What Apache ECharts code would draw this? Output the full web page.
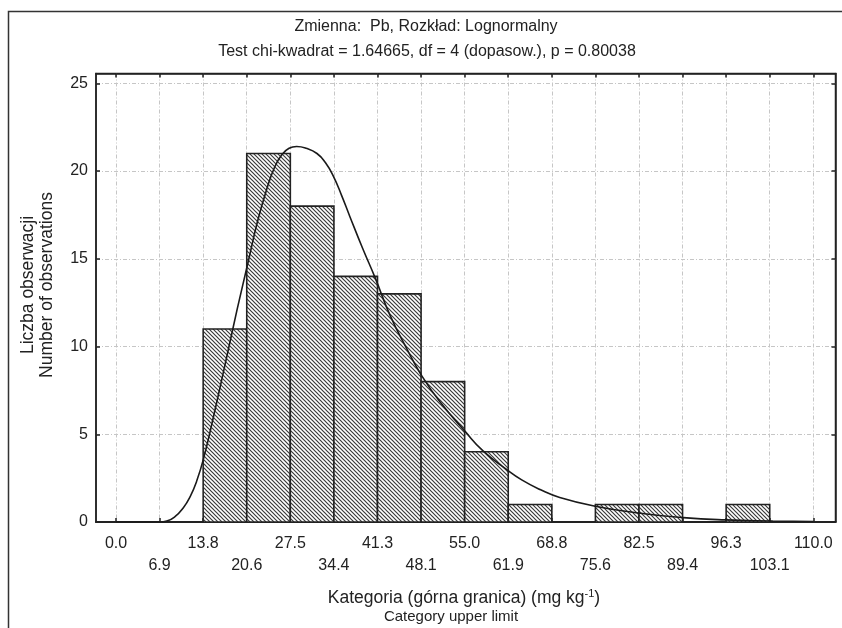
<!DOCTYPE html>
<html>
<head>
<meta charset="utf-8">
<script src="https://cdn.jsdelivr.net/npm/echarts@6/dist/echarts.min.js"></script>
<style>
  html, body { margin: 0; padding: 0; background: #fff; }
  #chart { width: 842px; height: 628px; }
</style>
</head>
<body>
<div id="chart"></div>
<script>
// Histogram class boundaries (category upper limits, mg/kg)
const binEdges = [0, 6.875, 13.75, 20.625, 27.5, 34.375, 41.25, 48.125, 55,
                  61.875, 68.75, 75.625, 82.5, 89.375, 96.25, 103.125, 110];
const tickLabels = ['0.0', '6.9', '13.8', '20.6', '27.5', '34.4', '41.3', '48.1', '55.0',
                    '61.9', '68.8', '75.6', '82.5', '89.4', '96.3', '103.1', '110.0'];
// Number of observations in each class
const counts = [0, 0, 11, 21, 18, 14, 13, 8, 4, 1, 0, 1, 1, 0, 1, 0];
// Fitted lognormal curve (expected count per class width)
const fitX = [0, 6.9, 8.0, 9.3, 10.6, 11.7, 12.7, 13.8, 15.5, 17.4, 19.1, 20.9, 22.3,
              23.8, 25.0, 26.1, 27.3, 28.5, 30.0, 31.7, 33.0, 34.3, 35.6, 36.9, 38.9,
              40.9, 43.2, 45.9, 48.2, 51.1, 55.1, 57.9, 61.6, 64.0, 66.9, 70.0, 75.6,
              82.7, 89.5, 96.1, 103.6, 110];
const fitY = [0, 0, 0.05, 0.3, 0.8, 1.45, 2.3, 3.6, 6.2, 9.3, 12.1, 14.9, 17.1,
              19.0, 20.2, 20.9, 21.3, 21.4, 21.3, 21.0, 20.5, 19.7, 18.6, 17.4, 15.6,
              13.9, 11.8, 9.85, 8.35, 6.85, 5.15, 4.05, 3.0, 2.4, 1.85, 1.4, 0.9,
              0.5, 0.25, 0.12, 0.06, 0.03];
const yTicks = [0, 5, 10, 15, 20, 25];

const titleLine1 = 'Zmienna:  Pb, Rozkład: Lognormalny';
const titleLine2 = 'Test chi-kwadrat = 1.64665, df = 4 (dopasow.), p = 0.80038';
const yName = 'Liczba obserwacji\nNumber of observations';
const xName1 = 'Kategoria (górna granica) (mg kg{sup|-1})';
const xName2 = 'Category upper limit';

const FONT = "'Liberation Sans', Arial, sans-serif";
const INK = '#222';

// Diagonal hatch used to fill the histogram bars
function hatchPattern() {
  const s = 4;
  const c = document.createElement('canvas');
  c.width = s; c.height = s;
  const g = c.getContext('2d');
  g.fillStyle = '#fff';
  g.fillRect(0, 0, s, s);
  g.strokeStyle = '#3a3a3a';
  g.lineWidth = 1.2;
  g.beginPath();
  for (let k = -1; k <= 1; k++) {
    g.moveTo(k * s - 1, -1);
    g.lineTo(k * s + s + 1, s + 1);
  }
  g.stroke();
  return { image: c, repeat: 'repeat' };
}
const hatch = hatchPattern();

const barData = [];
counts.forEach((c, i) => {
  if (c > 0) barData.push([binEdges[i], binEdges[i + 1], c]);
});

const xMin = -3.155, xMax = 113.5;
const yMin = 0, yMax = 25.56;

const gridLine = { show: true, lineStyle: { color: '#c6c6c6', width: 1, type: [4, 2, 1, 2] } };

function xLabel(value) {
  const i = binEdges.findIndex(e => Math.abs(e - value) < 1e-6);
  if (i < 0) return '';
  return i % 2 ? '\n' + tickLabels[i] : tickLabels[i];
}

const chart = echarts.init(document.getElementById('chart'), null, { renderer: 'canvas' });

chart.setOption({
  animation: false,
  backgroundColor: '#fff',
  grid: {
    left: 96, right: 6.5, top: 73.5, bottom: 106,
    show: true, borderColor: INK, borderWidth: 1.5, containLabel: false
  },
  xAxis: [
    {
      type: 'value', min: xMin, max: xMax, position: 'bottom',
      axisLine: { show: true, onZero: false, lineStyle: { color: INK, width: 2 } },
      axisTick: { show: true, inside: true, length: 4, customValues: binEdges, lineStyle: { color: INK, width: 1.5 } },
      axisLabel: {
        show: true, customValues: binEdges, formatter: xLabel,
        fontFamily: FONT, fontSize: 16, color: INK, margin: 10, lineHeight: 22.5
      },
      splitLine: gridLine
    },
    {
      type: 'value', min: xMin, max: xMax, position: 'top',
      axisLine: { show: true, onZero: false, lineStyle: { color: INK, width: 1.5 } },
      axisTick: { show: true, inside: true, length: 4, customValues: binEdges, lineStyle: { color: INK, width: 1.5 } },
      axisLabel: { show: false },
      splitLine: { show: false }
    }
  ],
  yAxis: [
    {
      type: 'value', min: yMin, max: yMax, position: 'left',
      axisLine: { show: true, onZero: false, lineStyle: { color: INK, width: 1.5 } },
      axisTick: { show: true, inside: true, length: 4, customValues: yTicks, lineStyle: { color: INK, width: 1.5 } },
      axisLabel: { show: true, customValues: yTicks, fontFamily: FONT, fontSize: 16, color: INK, margin: 8 },
      splitLine: gridLine
    },
    {
      type: 'value', min: yMin, max: yMax, position: 'right',
      axisLine: { show: true, onZero: false, lineStyle: { color: INK, width: 1.5 } },
      axisTick: { show: true, inside: true, length: 4, customValues: yTicks, lineStyle: { color: INK, width: 1.5 } },
      axisLabel: { show: false },
      splitLine: { show: false }
    }
  ],
  series: [
    {
      type: 'custom',
      xAxisIndex: 0, yAxisIndex: 0,
      data: barData,
      encode: { x: [0, 1], y: 2 },
      clip: true,
      z: 3,
      renderItem: function (params, api) {
        const p0 = api.coord([api.value(0), api.value(2)]);
        const p1 = api.coord([api.value(1), 0]);
        return {
          type: 'rect',
          shape: { x: p0[0], y: p0[1], width: p1[0] - p0[0], height: p1[1] - p0[1] },
          style: { fill: hatch, stroke: INK, lineWidth: 1.6 }
        };
      }
    },
    {
      type: 'line',
      xAxisIndex: 0, yAxisIndex: 0,
      data: fitX.map((x, i) => [x, fitY[i]]),
      smooth: 0.5,
      showSymbol: false,
      symbol: 'none',
      lineStyle: { color: '#1a1a1a', width: 1.6 },
      z: 5
    }
  ],
  graphic: [
    {
      type: 'rect', silent: true, z: -1,
      shape: { x: 8.5, y: 11.5, width: 900, height: 700 },
      style: { fill: 'none', stroke: '#333', lineWidth: 1.5 }
    },
    {
      type: 'text', x: 426, y: 27,
      style: { text: titleLine1, font: '16px ' + FONT, fill: INK, align: 'center', verticalAlign: 'middle' }
    },
    {
      type: 'text', x: 427, y: 52,
      style: { text: titleLine2, font: '16px ' + FONT, fill: INK, align: 'center', verticalAlign: 'middle' }
    },
    {
      type: 'text', x: 37.5, y: 285, rotation: Math.PI / 2,
      style: { text: yName, font: '17.5px ' + FONT, fill: INK, align: 'center', verticalAlign: 'middle', lineHeight: 19 }
    },
    {
      type: 'text', x: 464, y: 598,
      style: {
        text: xName1, font: '17.5px ' + FONT, fill: INK, align: 'center', verticalAlign: 'middle',
        rich: { sup: { fontSize: 11, fontFamily: FONT, fill: INK, verticalAlign: 'top', lineHeight: 20 } }
      }
    },
    {
      type: 'text', x: 451, y: 617,
      style: { text: xName2, font: '15px ' + FONT, fill: INK, align: 'center', verticalAlign: 'middle' }
    }
  ]
});
</script>
</body>
</html>
